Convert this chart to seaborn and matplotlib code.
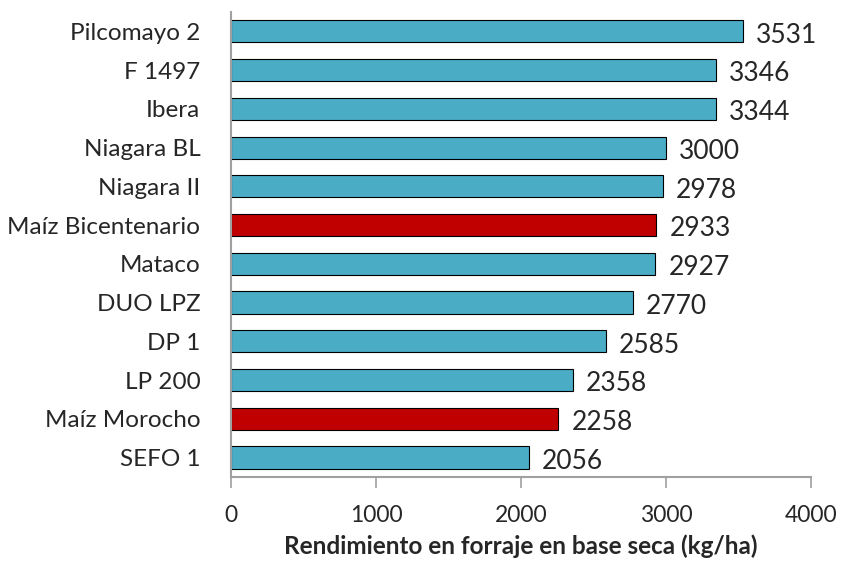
import matplotlib
matplotlib.use("Agg")
import matplotlib.pyplot as plt
import seaborn as sns
import pandas as pd

# datos
variedades = ["Pilcomayo 2", "F 1497", "Ibera", "Niagara BL", "Niagara II",
              "Maíz Bicentenario", "Mataco", "DUO LPZ", "DP 1", "LP 200",
              "Maíz Morocho", "SEFO 1"]
rendimiento = [3531, 3346, 3344, 3000, 2978, 2933, 2927, 2770, 2585, 2358, 2258, 2056]
tipo = ["sorgo", "sorgo", "sorgo", "sorgo", "sorgo", "maiz", "sorgo",
        "sorgo", "sorgo", "sorgo", "maiz", "sorgo"]

colores = {"sorgo": "#4BACC6", "maiz": "#C00000"}

df = pd.DataFrame({"variedad": variedades, "rend": rendimiento, "tipo": tipo})

sns.set_style("white")
plt.rcParams["font.family"] = ["Lato", "DejaVu Sans"]

fig = plt.figure(figsize=(8.42, 5.61), dpi=100)
ax = fig.add_axes([0.2743, 0.150, 0.6888, 0.8286])

sns.barplot(data=df, x="rend", y="variedad", hue="tipo", palette=colores,
            saturation=1, dodge=False, legend=False, width=0.57,
            edgecolor="black", linewidth=0.8, ax=ax)

for i, v in enumerate(rendimiento):
    ax.text(v + 90, i + 0.1, str(v), va="center", ha="left", fontsize=19)

ax.set_xlim(0, 4000)
ax.set_ylim(11.5, -0.5)
ax.set_xticks([0, 1000, 2000, 3000, 4000])
ax.set_xlabel("Rendimiento en forraje en base seca (kg/ha)", fontsize=17.5,
              fontweight="bold", labelpad=6)
ax.set_ylabel("")
ax.tick_params(axis="x", labelsize=16.5, direction="out", length=8,
               color="#A0A0A0", width=1.2, bottom=True, pad=12)
ax.tick_params(axis="y", labelsize=17.5, length=0, pad=22)

for s in ["top", "right"]:
    ax.spines[s].set_visible(False)
for s in ["left", "bottom"]:
    ax.spines[s].set_color("#A0A0A0")
    ax.spines[s].set_linewidth(1.5)

fig.savefig("out.png", dpi=100)
